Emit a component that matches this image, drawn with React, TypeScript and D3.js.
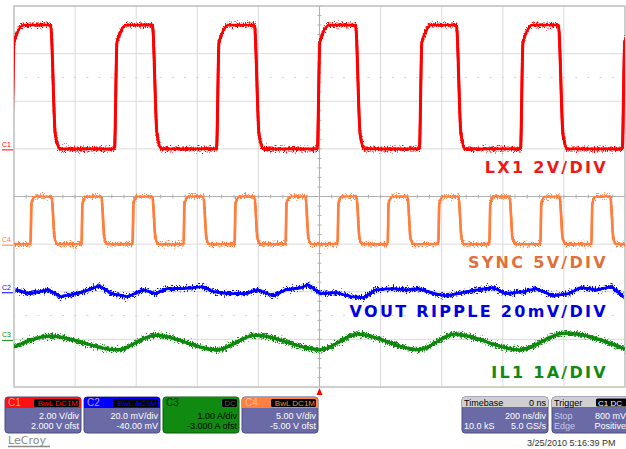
import * as d3 from "d3";

// screen: 10 div x 200 ns/div, trigger at centre; 8 vertical divisions
const timeDomain = [-1000, 1000];
const divDomain = [-4, 4];
const timeGrid = d3.range(-1000, 1001, 200);
const divGrid = d3.range(-4, 5, 1);

// C1 LX1, 2 V/div, 2.000 V ofst
const lx1RiseNs = [-1008, -671, -337, -7, 327, 658, 991];
const lx1FallNs = [-880, -547, -213, 118, 448, 782];
const lx1Levels = [0, 5.2];

// C4 SYNC, 5 V/div, -5.00 V ofst
const syncRiseNs = [-946, -779, -612, -445, -278, -111, 59, 223, 389, 556, 723, 890];
const syncFallNs = [-877, -714, -547, -380, -213, -46, 121, 288, 455, 622, 786, 952];
const syncLevels = [0, 5];

// C2 VOUT ripple, 20 mV/div, -40 mV ofst
const rippleNs = [-995, -949, -887, -848, -795, -756, -720, -681, -628, -576, -537, -501,
  -448, -383, -344, -295, -242, -203, -151, -111, -62, -36, 3, 56, 105, 144, 183, 236,
  288, 324, 376, 416, 468, 517, 570, 609, 661, 710, 763, 815, 854, 907, 956, 995];
const rippleMv = [0.8, -0.8, 0.8, -2.1, -0.8, 0.8, 2.5, -0.8, -2.1, 0.8, -0.8, 1.3,
  1.3, 2.1, -0.1, -0.8, -0.8, 0.8, -1.7, 0.8, 1.7, 2.9, -0.8, -0.4, -2.1, -2.5, 0.8, 1.3,
  0.8, 1.3, -0.8, -1.7, -0.4, 0.8, 1.7, -0.8, -0.1, 1.3, -1.7, -0.8, 1.7, 0.8, 2.1, -2.1];

// C3 IL1, 1 A/div, -3.000 A ofst
const il1Ns = [-1000, -880, -661, -537, -337, -209, 3, 124, 324, 442, 655, 802, 1000];
const il1A = [-0.16, 0.07, -0.22, 0.09, -0.22, 0.09, -0.22, 0.11, -0.22, 0.11, -0.22, 0.13, -0.2];

const readouts = [
  { ch: "C1", tag: "BwL DC1M", div: "2.00 V/div", ofst: "2.000 V ofst", color: "#ff1010" },
  { ch: "C2", tag: "BwL AC1M", div: "20.0 mV/div", ofst: "-40.00 mV", color: "#0000ff" },
  { ch: "C3", tag: "DC", div: "1.00 A/div", ofst: "-3.000 A ofst", color: "#118a11" },
  { ch: "C4", tag: "BwL DC1M", div: "5.00 V/div", ofst: "-5.00 V ofst", color: "#ff8040" },
];

const C1 = "#ff0000", C4 = "#ff7d3c", C2 = "#0000ff", C3 = "#118811";

type Pt = [number, number];

function squareWave(rise: number[], fall: number[], levels: number[], riseNs: number, fallNs: number): Pt[] {
  const [lo, hi] = levels;
  const edges = rise.map((t) => ({ t, up: true })).concat(fall.map((t) => ({ t, up: false })));
  edges.sort((a, b) => a.t - b.t);
  const pts: Pt[] = [[-1100, edges[0].up ? lo : hi]];
  edges.forEach((e) => {
    if (e.up) {
      pts.push([e.t, lo], [e.t + riseNs * 0.2, lo + 0.86 * (hi - lo)], [e.t + riseNs, hi]);
    } else {
      pts.push([e.t, hi], [e.t + fallNs * 0.5, lo + 0.12 * (hi - lo)], [e.t + fallNs, lo]);
    }
  });
  pts.push([1100, edges[edges.length - 1].up ? hi : lo]);
  return pts;
}

export default function App() {
  const x = d3.scaleLinear().domain(timeDomain).range([14, 625]);
  const y = d3.scaleLinear().domain(divDomain).range([387, 6]);
  const chY = (scale: number, offset: number) => (v: number) => y((v + offset) / scale);
  const yC1 = chY(2, 2), yC4 = chY(5, -5), yC2 = chY(20, -40), yC3 = chY(1, -3);

  const path = (pts: Pt[], toY: (v: number) => number, curve = d3.curveMonotoneX) =>
    d3.line<Pt>().x((d) => x(d[0])).y((d) => toY(d[1])).curve(curve)(pts) || "";

  const traces = [
    { id: "c1", d: path(squareWave(lx1RiseNs, lx1FallNs, lx1Levels, 40, 30), yC1), color: C1, w: 3 },
    { id: "c4", d: path(squareWave(syncRiseNs, syncFallNs, syncLevels, 16, 20), yC4), color: C4, w: 2.6 },
    { id: "c2", d: path(rippleNs.map((t, i) => [t, rippleMv[i]] as Pt), yC2, d3.curveLinear), color: C2, w: 3.2 },
    { id: "c3", d: path(il1Ns.map((t, i) => [t, il1A[i]] as Pt), yC3), color: C3, w: 3.8 },
  ];

  const [x0, x1] = x.range();
  const [yb, yt] = y.range();
  const minor = d3.range(-4, 4.001, 0.2);
  const minorT = d3.range(-1000, 1000.1, 40);

  const markers = [
    { label: "C1", yy: yC1(0), color: C1 },
    { label: "C4", yy: yC4(0), color: C4 },
    { label: "C2", yy: yC2(0), color: C2 },
    { label: "C3", yy: yC3(0), color: C3 },
  ];

  const labels = [
    { text: "LX1 2V/DIV", yy: 173, color: "#f01818" },
    { text: "SYNC 5V/DIV", yy: 268, color: "#e0703c" },
    { text: "VOUT RIPPLE 20mV/DIV", yy: 317, color: "#0000e0" },
    { text: "IL1 1A/DIV", yy: 378, color: "#128a12" },
  ];

  const boxW = 76;
  const panelFont = "'Liberation Sans', Arial, sans-serif";
  const slate = "#6a6aa6";

  return (
    <svg width={626} height={449} style={{ position: "absolute", left: 0, top: 0, background: "#fff" }}>
      <defs>
        <clipPath id="plot">
          <rect x={x0} y={yt} width={x1 - x0} height={yb - yt} />
        </clipPath>
        <filter id="noise" filterUnits="userSpaceOnUse" x={0} y={0} width={626} height={449}>
          <feTurbulence type="fractalNoise" baseFrequency="0.9 0.6" numOctaves={2} seed={4} result="t" />
          <feColorMatrix in="t" type="matrix" values="0 0 0 0 0.5  0 1 0 0 0  0 0 1 0 0  0 0 0 0 1" result="m" />
          <feDisplacementMap in="SourceGraphic" in2="m" scale={11} xChannelSelector="R" yChannelSelector="G" />
        </filter>
      </defs>

      {/* grid */}
      <g stroke="#dadada" strokeWidth={1}>
        {timeGrid.map((t) => (
          <line key={"v" + t} x1={x(t)} x2={x(t)} y1={yt} y2={yb} />
        ))}
        {divGrid.map((d) => (
          <line key={"h" + d} x1={x0} x2={x1} y1={y(d)} y2={y(d)} />
        ))}
      </g>
      <g stroke="#b0b0b0" strokeWidth={1}>
        <line x1={x(0)} x2={x(0)} y1={yt} y2={yb} />
        <line x1={x0} x2={x1} y1={y(0)} y2={y(0)} />
        {minor.map((d) => (
          <line key={"mt" + d} x1={x(0) - 2} x2={x(0) + 2} y1={y(d)} y2={y(d)} />
        ))}
        {minorT.map((t) => (
          <line key={"mh" + t} x1={x(t)} x2={x(t)} y1={y(0) - 2} y2={y(0) + 2} />
        ))}
      </g>
      <g stroke="#cfcfcf" strokeWidth={1}>
        {[2.5, -2.5].map((d) =>
          minorT.map((t) => (
            <line key={"d" + d + t} x1={x(t) - 1} x2={x(t) + 1} y1={y(d)} y2={y(d)} />
          ))
        )}
      </g>
      <rect x={x0} y={yt} width={x1 - x0} height={yb - yt} fill="none" stroke="#c4c4c4" strokeWidth={1.5} />

      {/* traces: solid core plus a displaced copy for the noise band */}
      <g clipPath="url(#plot)" fill="none" strokeLinejoin="round">
        {traces.map((t) => (
          <g key={t.id}>
            <path d={t.d} stroke={t.color} strokeWidth={t.w * 0.85} />
            <g filter="url(#noise)">
              <path d={t.d} stroke={t.color} strokeWidth={t.w} />
            </g>
          </g>
        ))}
      </g>

      {/* ground markers */}
      {markers.map((m) => (
        <g key={m.label} fill={m.color} stroke={m.color}>
          <text x={2} y={m.yy - 2} fontSize={7} fontFamily={panelFont} stroke="none">
            {m.label}
          </text>
          <line x1={2} x2={13} y1={m.yy + 1} y2={m.yy + 1} strokeWidth={1} />
        </g>
      ))}

      {/* channel labels */}
      {labels.map((l) => (
        <text
          key={l.text}
          x={608}
          y={l.yy}
          textAnchor="end"
          fill={l.color}
          fontSize={16}
          fontWeight="bold"
          letterSpacing={2.3}
          fontFamily="'DejaVu Sans', Verdana, sans-serif"
        >
          {l.text}
        </text>
      ))}

      {/* trigger position */}
      <path d={`M${x(0) - 3},395 L${x(0)},388 L${x(0) + 3},395 Z`} fill="#ff0000" />

      {/* readout boxes */}
      <g fontFamily={panelFont} fontSize={9}>
        {readouts.map((r, i) => {
          const bx = 5 + i * 79;
          const green = r.ch === "C3";
          const tagW = green ? 15 : 45;
          return (
            <g key={r.ch}>
              <rect x={bx} y={397} width={boxW} height={36} rx={3} fill={green ? r.color : slate} stroke={green ? "#0a5a0a" : "#4c4c80"} strokeWidth={1} />
              <path d={`M${bx + 3},397 h${boxW - 6} a3,3 0 0 1 3,3 v8 h${-boxW} v-8 a3,3 0 0 1 3,-3 Z`} fill={r.color} />
              <text x={bx + 3} y={406} fill={green ? "#0a3a0a" : "#ffd0c0"} fillOpacity={green ? 1 : 0.75} fontSize={10}>
                {r.ch}
              </text>
              <rect x={bx + boxW - tagW - 2} y={399} width={tagW} height={8} rx={1.5} fill="#000" />
              <text x={bx + boxW - 3} y={406} textAnchor="end" fill={r.color} fontSize={8}>
                {r.tag}
              </text>
              <text x={bx + boxW - 2} y={419} textAnchor="end" fill={green ? "#000" : "#fff"}>
                {r.div}
              </text>
              <text x={bx + boxW - 2} y={429} textAnchor="end" fill={green ? "#000" : "#fff"}>
                {r.ofst}
              </text>
            </g>
          );
        })}

        {/* timebase */}
        <rect x={462} y={397} width={86} height={36} rx={3} fill={slate} stroke="#4c4c80" />
        <path d="M465,397 h80 a3,3 0 0 1 3,3 v7 h-86 v-7 a3,3 0 0 1 3,-3 Z" fill="#cfcfcf" />
        <text x={464} y={405.5} fill="#000">Timebase</text>
        <text x={546} y={405.5} textAnchor="end" fill="#000">0 ns</text>
        <text x={546} y={419} textAnchor="end" fill="#fff">200 ns/div</text>
        <text x={464} y={429} fill="#fff">10.0 kS</text>
        <text x={546} y={429} textAnchor="end" fill="#fff">5.0 GS/s</text>

        {/* trigger */}
        <rect x={552} y={397} width={80} height={36} rx={3} fill={slate} stroke="#4c4c80" />
        <path d="M555,397 h74 a3,3 0 0 1 3,3 v7 h-80 v-7 a3,3 0 0 1 3,-3 Z" fill="#cfcfcf" />
        <text x={554} y={405.5} fill="#000">Trigger</text>
        <rect x={596} y={398.5} width={32} height={8} rx={1.5} fill="#000" />
        <text x={598} y={405.5} fill="#fff" fontSize={8}>C1 DC</text>
        <text x={554} y={419} fill="#c8c8e8">Stop</text>
        <text x={626} y={419} textAnchor="end" fill="#fff">800 mV</text>
        <text x={554} y={429} fill="#c8c8e8">Edge</text>
        <text x={626} y={429} textAnchor="end" fill="#fff">Positive</text>

        <text x={527} y={446} fill="#333" fontSize={9}>3/25/2010 5:16:39 PM</text>
      </g>

      {/* logo */}
      <text x={8} y={444} fill="#8a8a8a" fontSize={11} fontFamily="'DejaVu Sans', sans-serif">LeCroy</text>
      <line x1={8} x2={50} y1={446.5} y2={446.5} stroke="#8a8a8a" strokeWidth={1.5} />
    </svg>
  );
}
